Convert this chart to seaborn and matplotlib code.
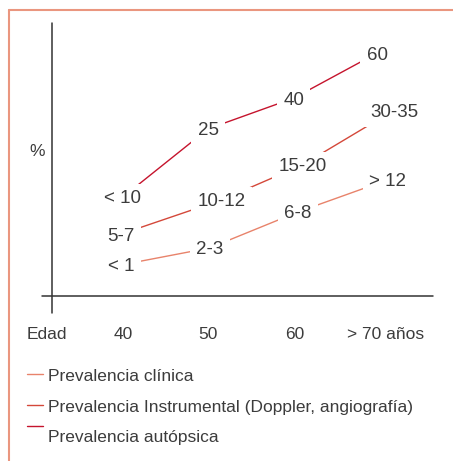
import pandas as pd
import matplotlib.pyplot as plt
from matplotlib.lines import Line2D
import seaborn as sns

# series (x in age units, y in % of the vertical axis), with the text shown at each point
series_names = ['Prevalencia clínica',
                'Prevalencia Instrumental (Doppler, angiografía)',
                'Prevalencia autópsica']
clinica_x = [39.8, 50.2, 60.6, 71.1]
clinica_y = [11.4, 17.6, 30.8, 42.5]
clinica_lab = ['< 1', '2-3', '6-8', '> 12']
instr_x = [39.8, 51.6, 61.1, 71.9]
instr_y = [22.7, 35.2, 48.0, 68.1]
instr_lab = ['5-7', '10-12', '15-20', '30-35']
autop_x = [40.0, 50.0, 60.1, 69.9]
autop_y = [36.3, 61.2, 72.5, 89.0]
autop_lab = ['< 10', '25', '40', '60']

tick_x = [31.1, 40, 50, 60.2, 70.9]
tick_labels = ['Edad', '40', '50', '60', '> 70 años']

colors = ['#E8836B', '#D4483A', '#C5142D']
border_col = '#EA967F'
text_col = '#3c3c3c'

df = pd.concat([
    pd.DataFrame({'x': clinica_x, 'y': clinica_y, 'serie': series_names[0]}),
    pd.DataFrame({'x': instr_x, 'y': instr_y, 'serie': series_names[1]}),
    pd.DataFrame({'x': autop_x, 'y': autop_y, 'serie': series_names[2]}),
])

sns.set_style('white')
plt.rcParams['font.family'] = ['Liberation Sans', 'DejaVu Sans']

W, H = 453, 461
fig = plt.figure(figsize=(W / 100, H / 100), dpi=100)

def fx(px):
    return px / W

def fy(py):
    return 1 - py / H

# plot area: x from 52 to 433 px, y from 23 to 296 px
ax = fig.add_axes([fx(52), fy(296), (433 - 52) / W, (296 - 23) / H])
x0 = 40 + (52 - 123) / 8.5
x1 = 40 + (433 - 123) / 8.5
ax.set_xlim(x0, x1)
ax.set_ylim(0, 100)
for s in ax.spines.values():
    s.set_visible(False)
ax.set_xticks([])
ax.set_yticks([])
ax.patch.set_alpha(0)

sns.lineplot(data=df, x='x', y='y', hue='serie', palette=colors, hue_order=series_names,
             legend=False, sort=False, lw=1.0, ax=ax)

# axis lines
ax.axhline(0, xmin=-10 / 381, xmax=1, color='#333333', lw=1.1, clip_on=False)
ax.axvline(x0, ymin=-17 / 273, ymax=1, color='#333333', lw=1.1, clip_on=False)

# labels on points, masking the line underneath
for xs, ys, labs in [(clinica_x, clinica_y, clinica_lab),
                     (instr_x, instr_y, instr_lab),
                     (autop_x, autop_y, autop_lab)]:
    for x, y, t in zip(xs, ys, labs):
        ax.text(x, y, t, ha='center', va='center_baseline', fontsize=13.5, color=text_col,
                bbox=dict(facecolor='white', edgecolor='none', pad=4.5), zorder=5)

# tick labels
for x, t in zip(tick_x, tick_labels):
    ax.text(x, -13.6, t, ha='center', va='center_baseline', fontsize=12.5,
            color=text_col, clip_on=False)
ax.text(29.9, 53.5, '%', ha='center', va='center_baseline', fontsize=12.5, color=text_col)

# legend
leg_line_y = [374, 405, 426]
leg_text_y = [375, 406, 436]
for name, c, ly, ty in zip(series_names, colors, leg_line_y, leg_text_y):
    fig.add_artist(Line2D([fx(27), fx(43)], [fy(ly), fy(ly)], color=c, lw=1.0))
    fig.text(fx(48), fy(ty), name, ha='left', va='center_baseline', fontsize=12.5,
             color=text_col)

# frame (top and left edge)
fig.add_artist(Line2D([fx(9), 1], [fy(10), fy(10)], color=border_col, lw=1.5))
fig.add_artist(Line2D([fx(9), fx(9)], [fy(10), 0], color=border_col, lw=1.5))

fig.savefig('out.png', dpi=100)
